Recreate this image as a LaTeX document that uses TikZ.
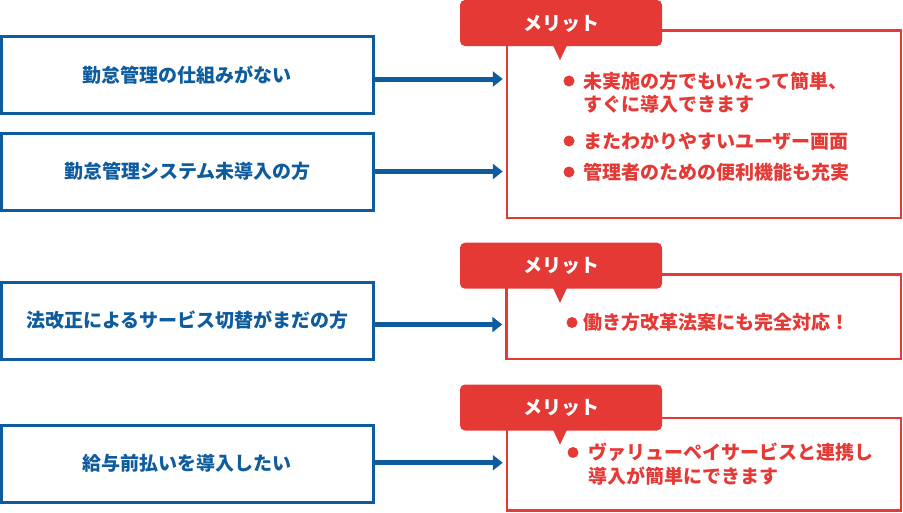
\documentclass[tikz,border=0pt]{standalone}
\usepackage{fontspec}
\setmainfont{Noto Sans CJK JP}
\usetikzlibrary{arrows.meta}
\definecolor{kblue}{RGB}{14,92,158}
\definecolor{kred}{RGB}{229,57,53}
\begin{document}
\begin{tikzpicture}[x=1pt,y=-1pt,
  jpfont/.style={font=\fontsize{19}{23}\selectfont\bfseries},
  bluebox/.style={jpfont,draw=kblue,line width=3pt,text=kblue,inner sep=0pt,
    minimum width=371.5pt,minimum height=77pt,text height=16.7pt,text depth=2.3pt},
  redbox/.style={draw=kred,line width=2.5pt,inner sep=0pt},
  tabbox/.style={jpfont,fill=kred,text=white,rounded corners=5pt,inner sep=0pt,
    minimum width=202pt,minimum height=46pt,text height=16.7pt,text depth=2.3pt},
  dot/.style={circle,fill=kred,minimum size=11pt,inner sep=0pt},
  redtext/.style={jpfont,text=kred,anchor=base west,inner sep=0pt},
  arr/.style={draw=kblue,line width=5pt,-{Triangle[length=10pt,width=15pt]},shorten >=3pt}
]
\useasboundingbox (0,0) rectangle (903,512);

% left boxes
\node[bluebox] (b1) at (187.25,75) {勤怠管理の仕組みがない};
\node[bluebox] (b2) at (187.25,171.5) {勤怠管理システム未導入の方};
\node[bluebox] (b3) at (187.5,320.5) {法改正によるサービス切替がまだの方};
\node[bluebox] (b4) at (187.25,463.75) {給与前払いを導入したい};

% right boxes
\node[redbox,minimum width=394pt,minimum height=187.5pt] (r1) at (704,124.25) {};
\node[redbox,minimum width=394.5pt,minimum height=84.5pt] (r2) at (703.75,316.75) {};
\node[redbox,minimum width=394pt,minimum height=92.5pt] (r3) at (704,464.25) {};

% tabs
\node[tabbox] (t1) at (561,23) {メリット};
\node[tabbox] (t2) at (561,265.7) {メリット};
\node[tabbox] (t3) at (561,407.5) {メリット};
\foreach \t in {t1,t2,t3}{
  \fill[kred] ([xshift=-8pt,yshift=1pt]\t.south) -- ([xshift=6pt,yshift=1pt]\t.south)
    -- ([xshift=-1pt,yshift=-14pt]\t.south) -- cycle;
}

% arrows
\coordinate (a1) at ([yshift=-4pt]b1.east);
\coordinate (a2) at (b2.east);
\coordinate (a3) at ([yshift=-4pt]b3.east);
\coordinate (a4) at ([yshift=1pt]b4.east);
\draw[arr] (a1) -- (a1 -| r1.west);
\draw[arr] (a2) -- (a2 -| r1.west);
\draw[arr] (a3) -- (a3 -| r2.west);
\draw[arr] (a4) -- (a4 -| r3.west);

% merit items
\node[dot] (d1) at (569,81) {};
\node[redtext] (m1a) at (583,88.2) {未実施の方でもいたって簡単、};
\node[redtext] (m1b) at (583,111.2) {すぐに導入できます};
\node[dot] (d2) at (569,141) {};
\node[redtext] (m2) at (583,148.2) {またわかりやすいユーザー画面};
\node[dot] (d3) at (569,172) {};
\node[redtext] (m3) at (583,179.2) {管理者のための便利機能も充実};
\node[dot] (d4) at (572,322.5) {};
\node[redtext] (m4) at (583,329.7) {働き方改革法案にも完全対応！};
\node[dot] (d5) at (573,452.5) {};
\node[redtext] (m5a) at (588,459.7) {ヴァリューペイサービスと連携し};
\node[redtext] (m5b) at (588,483.7) {導入が簡単にできます};
\end{tikzpicture}
\end{document}
